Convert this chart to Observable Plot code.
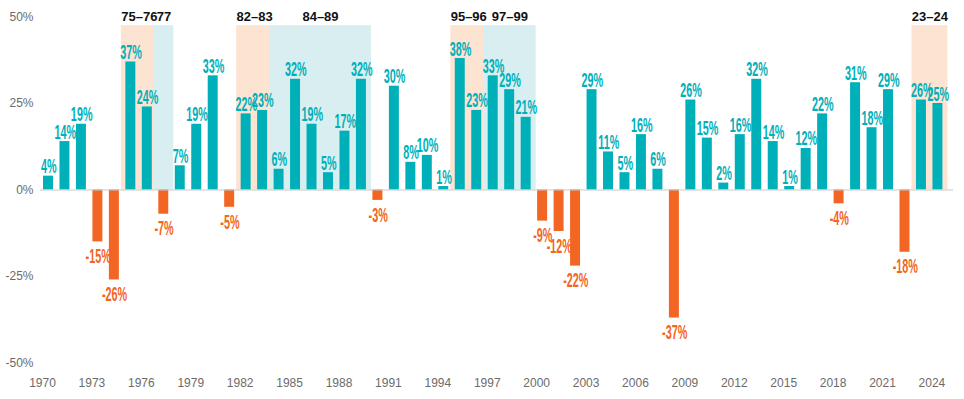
<!DOCTYPE html>
<html><head><meta charset="utf-8">
<script src="https://cdn.jsdelivr.net/npm/d3@7"></script>
<script src="https://cdn.jsdelivr.net/npm/@observablehq/plot@0.6"></script>
<style>
body{margin:0;background:#fff;}
#chart svg{display:block;}
</style></head><body><div id="chart"></div>
<script>
// Annual returns, 1970–2024 (%)
const years = [1970,1971,1972,1973,1974,1975,1976,1977,1978,1979,
  1980,1981,1982,1983,1984,1985,1986,1987,1988,1989,
  1990,1991,1992,1993,1994,1995,1996,1997,1998,1999,
  2000,2001,2002,2003,2004,2005,2006,2007,2008,2009,
  2010,2011,2012,2013,2014,2015,2016,2017,2018,2019,
  2020,2021,2022,2023,2024];
const returns = [4,14,19,-15,-26,37,24,-7,7,19,
  33,-5,22,23,6,32,19,5,17,32,
  -3,30,8,10,1,38,23,33,29,21,
  -9,-12,-22,29,11,5,16,6,-37,26,
  15,2,16,32,14,1,12,22,-4,31,
  18,29,-18,26,25];

// Highlighted periods
const periodStart = [1975,1977,1982,1984,1995,1997,2023];
const periodEnd   = [1976,1977,1983,1989,1996,1999,2024];
const periodLabel = ["75–76","77","82–83","84–89","95–96","97–99","23–24"];
const periodKind  = ["peach","blue","peach","blue","peach","blue","peach"];
const periodTop = 47.5;

// Axis ticks
const xTickYears = [1970,1973,1976,1979,1982,1985,1988,1991,1994,1997,2000,2003,2006,2009,2012,2015,2018,2021,2024];
const yTicks = [-50,-25,0,25,50];

const data = years.map((year, i) => ({year, value: returns[i]}));
const periods = periodStart.map((start, i) => ({start, end: periodEnd[i], label: periodLabel[i], kind: periodKind[i]}));

const TEAL = "#00b0b9", ORANGE = "#f26522";
const shadeColor = {peach: "#fde3d2", blue: "#d9eef0"};
const labelFont = "'Liberation Sans', Arial, sans-serif";

const chart = Plot.plot({
  width: 964,
  height: 399,
  marginLeft: 40,
  marginRight: 11,
  marginTop: 16.5,
  marginBottom: 36.5,
  style: {fontFamily: labelFont, fontSize: "12px", color: "#6b6b6b", background: "#fff"},
  x: {type: "linear", domain: [1970, 2025.43], axis: null},
  y: {domain: [-50, 50], ticks: yTicks, tickFormat: d => `${d}%`, tickSize: 0, tickPadding: 7, label: null},
  marks: [
    Plot.rect(periods, {x1: "start", x2: d => d.end + 1, y1: 0, y2: periodTop,
      fill: d => shadeColor[d.kind], insetLeft: -1.5, insetRight: -1.5}),
    Plot.text(periods, {x: d => (d.start + d.end + 1) / 2, text: "label", frameAnchor: "top",
      lineAnchor: "middle", fill: "#111", fontSize: 13, fontWeight: 600}),
    Plot.rect(data, {x1: "year", x2: d => d.year + 1, y1: 0, y2: "value",
      fill: d => d.value < 0 ? ORANGE : TEAL, insetLeft: 3, insetRight: 3.5}),
    Plot.ruleY([0], {stroke: "#c9c9c9", strokeWidth: 1}),
    Plot.text(data.filter(d => d.value >= 0), {x: d => d.year + 0.5, y: "value", text: d => `${d.value}%`,
      lineAnchor: "bottom", dy: -3, fill: TEAL, fontSize: 20, fontWeight: "bold"}),
    Plot.text(data.filter(d => d.value < 0), {x: d => d.year + 0.5, y: "value", text: d => `${d.value}%`,
      lineAnchor: "top", dy: 7, fill: ORANGE, fontSize: 20, fontWeight: "bold"}),
    Plot.text(xTickYears, {x: d => d, text: d => String(d), frameAnchor: "bottom", lineAnchor: "middle",
      dy: 20, dx: 2, fill: "#6b6b6b", fontSize: 12})
  ]
});
document.getElementById("chart").appendChild(chart);
// condense the value labels horizontally (the reference uses a condensed face)
chart.querySelectorAll('g[font-size="20"] text').forEach(t => {
  t.setAttribute("transform", (t.getAttribute("transform") || "") + " scale(0.54,1)");
});
</script>
</body></html>
